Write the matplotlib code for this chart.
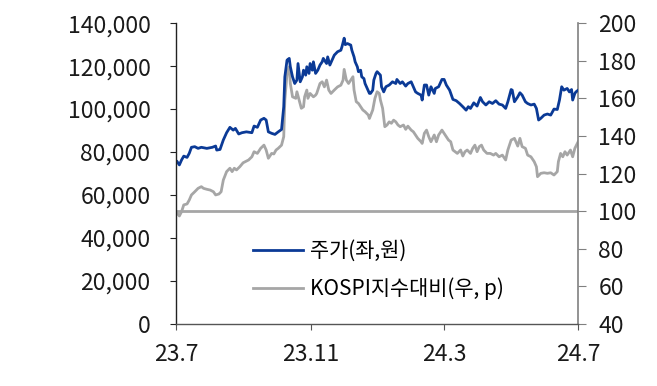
import pandas as pd
import matplotlib
matplotlib.use("Agg")
import matplotlib.pyplot as plt
from matplotlib.ticker import FuncFormatter, MultipleLocator

plt.rcParams['font.family'] = ['Noto Sans CJK KR', 'DejaVu Sans']

start = pd.Timestamp('2023-07-01')

# 주가 (좌, 원) - days since 2023-07-01
price_days = [1, 3, 5, 7, 10, 12, 14, 17, 20, 23, 28, 33, 36, 37, 40, 43, 46, 49, 52, 54,
              57, 60, 64, 69, 71, 74, 77, 80, 82, 84, 87, 90, 93, 96, 98, 99, 101, 103, 104, 106,
              108, 110, 111, 113, 115, 116, 118, 119, 121, 122, 124, 125, 127, 129, 131, 133, 134, 137, 138, 140,
              142, 144, 147, 150, 151, 153, 154, 156, 159, 160, 162, 163, 165, 166, 168, 169, 171, 172, 174, 176,
              177, 179, 180, 182, 183, 186, 187, 189, 191, 194, 197, 200, 201, 204, 206, 209, 211, 214, 216, 218,
              220, 223, 224, 226, 228, 230, 232, 235, 236, 239, 242, 244, 246, 249, 252, 255, 258, 261, 264, 266,
              268, 271, 274, 277, 279, 282, 285, 288, 291, 294, 297, 300, 302, 305, 306, 308, 311, 313, 315, 318,
              320, 323, 326, 328, 330, 332, 335, 338, 341, 344, 347, 349, 351, 353, 356, 358, 360, 361, 363, 364, 366]
price = [75500, 74000, 76300, 78100, 77500, 79400, 82200, 82500, 81700, 82200, 81700, 82200, 82800, 80900, 81200, 85600, 89000, 91500, 90200, 91000,
         88400, 89000, 89400, 89000, 92100, 91500, 94900, 95700, 94900, 89400, 88700, 88200, 89400, 90500, 101100, 115000, 122800, 123600, 119700, 115000,
         111900, 113500, 121200, 112700, 115000, 118100, 115800, 119700, 116600, 121200, 118100, 122000, 116600, 118100, 120500, 122000, 123600, 121200, 124300, 120500,
         122800, 125100, 126700, 127400, 129000, 133000, 130000, 130500, 129800, 127400, 124300, 122000, 119700, 117400, 118100, 115000, 114200, 111900, 109600, 107300,
         107300, 108800, 113500, 116600, 117400, 115800, 110400, 108000, 110400, 111200, 112700, 111900, 113800, 111900, 112700, 110700, 111900, 112700, 110400, 108000,
         107300, 106500, 104200, 111200, 111200, 106500, 110400, 107300, 109600, 110400, 113800, 113800, 111200, 108800, 104500, 103900, 102600, 101100, 99500, 101100,
         100300, 102900, 101400, 105400, 103400, 101900, 103400, 102600, 103900, 102300, 101900, 100300, 103400, 109100, 108800, 103400, 105700, 107600, 106500, 103400,
         102600, 101900, 102300, 100300, 94900, 95700, 97200, 97700, 97200, 100000, 99800, 104200, 110400, 108800, 109600, 108000, 109100, 104200, 107300, 108000, 108800]

# KOSPI지수대비 (우, p)
rel_days = [1, 3, 5, 7, 10, 12, 14, 17, 20, 23, 25, 28, 31, 34, 36, 39, 41, 43, 46, 49,
            51, 53, 55, 58, 61, 66, 69, 71, 74, 77, 80, 82, 84, 87, 89, 91, 93, 96, 98, 99,
            101, 103, 104, 106, 109, 110, 112, 114, 116, 117, 119, 120, 122, 125, 127, 128, 131, 133, 135, 137,
            139, 141, 144, 147, 150, 152, 153, 155, 157, 159, 161, 162, 164, 166, 168, 170, 172, 175, 176, 179,
            181, 183, 185, 186, 188, 190, 192, 194, 196, 198, 200, 202, 204, 207, 209, 211, 214, 216, 218, 220,
            223, 224, 226, 228, 230, 232, 235, 237, 239, 242, 243, 245, 248, 250, 252, 254, 256, 259, 261, 263,
            265, 268, 270, 272, 274, 276, 278, 280, 283, 286, 289, 291, 294, 297, 300, 302, 305, 308, 311, 313,
            315, 318, 320, 323, 326, 328, 329, 332, 335, 338, 341, 344, 347, 348, 350, 352, 354, 356, 359, 361, 363, 366]
rel = [98.8, 97.4, 99.7, 103.3, 103.8, 105.9, 108.6, 110.3, 112.1, 113.0, 112.1, 111.6, 111.2, 110.3, 108.6, 109.1, 110.3, 116.5, 121.0, 122.8,
       121.0, 122.8, 121.9, 123.6, 125.7, 127.2, 128.9, 131.6, 130.7, 133.4, 135.1, 132.5, 128.1, 130.7, 130.4, 132.5, 133.4, 135.1, 139.6, 159.1,
       173.2, 176.8, 167.9, 160.8, 160.0, 163.5, 159.1, 154.7, 155.5, 160.8, 164.4, 160.0, 162.6, 160.8, 161.7, 162.6, 167.9, 168.8, 166.1, 169.7,
       164.4, 162.6, 164.4, 166.1, 167.0, 169.7, 175.4, 169.7, 167.9, 169.7, 171.5, 164.4, 158.2, 157.3, 155.5, 153.8, 152.9, 151.1, 149.3, 153.8,
       160.0, 163.5, 162.6, 159.1, 154.7, 144.9, 145.8, 147.5, 146.7, 148.4, 147.5, 145.8, 144.9, 145.8, 143.5, 145.2, 143.1, 142.2, 140.5, 138.7,
       136.9, 136.0, 141.4, 143.1, 139.6, 136.9, 140.5, 136.9, 140.5, 143.1, 142.2, 140.5, 137.8, 136.9, 132.5, 131.6, 130.7, 132.5, 129.3, 131.6,
       132.5, 130.7, 133.4, 135.1, 131.6, 134.3, 135.1, 132.5, 130.7, 130.7, 129.8, 130.7, 128.9, 129.8, 127.2, 132.5, 137.8, 138.7, 134.6, 138.7,
       134.3, 133.4, 129.8, 128.9, 126.3, 123.6, 118.3, 120.1, 120.4, 120.1, 120.4, 119.2, 121.0, 126.3, 130.7, 128.9, 131.6, 129.8, 132.5, 128.9, 133.4, 136.9]

base_level = 100
tick_dates = ['2023-07-01', '2023-11-01', '2024-03-01', '2024-07-01']
tick_labels = ['23.7', '23.11', '24.3', '24.7']

blue = '#0B3A96'
gray = '#A6A6A6'

price_x = start + pd.to_timedelta(price_days, unit='D')
rel_x = start + pd.to_timedelta(rel_days, unit='D')

fig = plt.figure(figsize=(6.57, 3.86), dpi=100)
ax = fig.add_axes([0.268, 0.161, 0.612, 0.779])
ax2 = ax.twinx()

ax2.axhline(base_level, color=gray, lw=2.0, zorder=1)
l2, = ax2.plot(rel_x, rel, color=gray, lw=2.0, label='KOSPI지수대비(우, p)')
l1, = ax.plot(price_x, price, color=blue, lw=2.0, label='주가(좌,원)')

# blue line on top of the gray one
ax.set_zorder(ax2.get_zorder() + 1)
ax.patch.set_visible(False)

ax.set_ylim(0, 140000)
ax2.set_ylim(40, 200)
ax.set_xlim(start, pd.Timestamp('2024-07-01'))
ax.yaxis.set_major_locator(MultipleLocator(20000))
ax.yaxis.set_major_formatter(FuncFormatter(lambda v, p: f'{int(v):,}'))
ax2.yaxis.set_major_locator(MultipleLocator(20))

ax.set_xticks(pd.to_datetime(tick_dates))
ax.set_xticklabels(tick_labels)

for a in (ax, ax2):
    a.spines['top'].set_visible(False)
ax.spines['right'].set_visible(False)
ax2.spines['left'].set_visible(False)
ax2.spines['bottom'].set_visible(False)
ax.spines['left'].set_color('#222222')
ax.spines['bottom'].set_color('#555555')
ax2.spines['right'].set_color('#808080')
for s in ('left', 'bottom'):
    ax.spines[s].set_linewidth(1.0)
ax2.spines['right'].set_linewidth(1.2)

ax.tick_params(axis='y', length=4.5, pad=14, labelsize=16.5, color='#222222', labelcolor='#1a1a1a')
ax.tick_params(axis='x', length=4.5, pad=9, labelsize=16.5, color='#555555', labelcolor='#1a1a1a')
ax2.tick_params(axis='y', length=5.5, pad=9, labelsize=16.5, color='#808080', labelcolor='#1a1a1a')

fig.legend(handles=[l1, l2], loc='upper left', bbox_to_anchor=(0.385, 0.378),
           frameon=False, fontsize=15, handlelength=2.4, handletextpad=0.35,
           labelspacing=0.75, borderaxespad=0, borderpad=0)

fig.savefig('out.png', dpi=100)
